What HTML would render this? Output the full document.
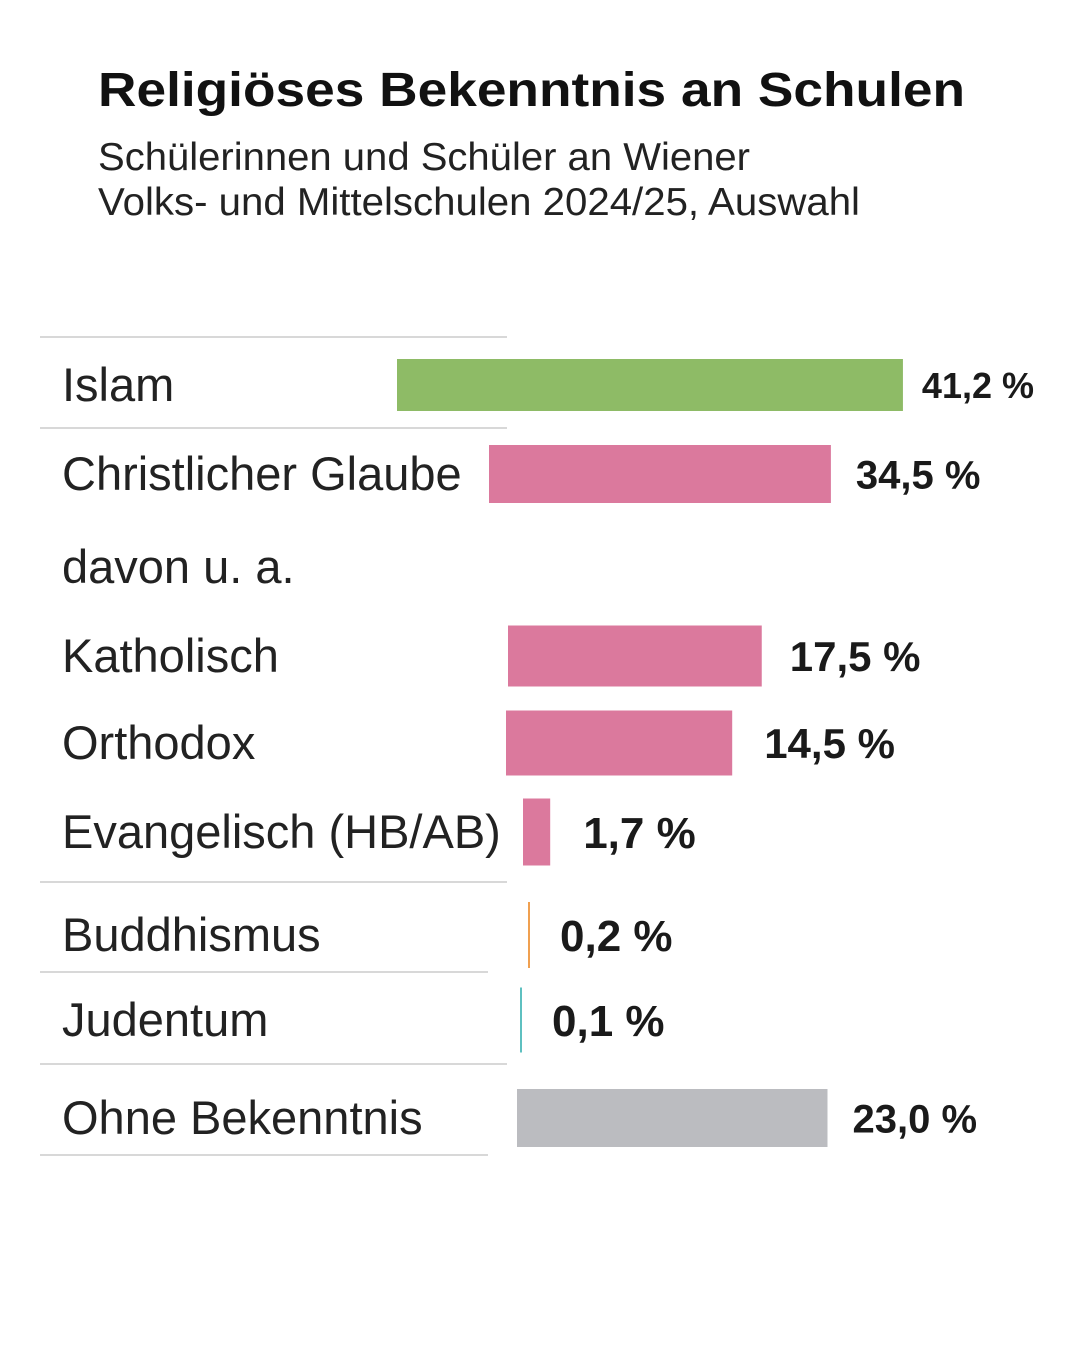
<!DOCTYPE html>
<html><head><meta charset="utf-8"><style>
body{margin:0;width:1080px;height:1350px;background:#fff;font-family:"Liberation Sans",sans-serif;overflow:hidden}
</style></head><body>
<svg width="1080" height="1350">
<text x="98" y="106" font-size="48" font-weight="bold" fill="#111" textLength="867" lengthAdjust="spacingAndGlyphs">Religiöses Bekenntnis an Schulen</text>
<text x="98" y="170" font-size="39" fill="#222" textLength="652" lengthAdjust="spacingAndGlyphs">Schülerinnen und Schüler an Wiener</text>
<text x="98" y="215" font-size="39" fill="#222" textLength="762" lengthAdjust="spacingAndGlyphs">Volks- und Mittelschulen 2024/25, Auswahl</text>
<g id="rows"></g>
</svg>
<script>
const categories=["Islam","Christlicher Glaube","davon u. a.","Katholisch","Orthodox","Evangelisch (HB/AB)","Buddhismus","Judentum","Ohne Bekenntnis"];
const values=[41.2,34.5,null,17.5,14.5,1.7,0.2,0.1,23.0];
const valueLabels=["41,2 %","34,5 %","","17,5 %","14,5 %","1,7 %","0,2 %","0,1 %","23,0 %"];
const colors=["#8ebb66","#db799d","","#db799d","#db799d","#db799d","#f0a050","#5ec0c0","#bbbcc0"];
const rowCenter=[385,474,567,656,743,832,935,1020,1118];
const barHeight=[52,58,0,61,65,67,66,65,58];
const barStart=[397,489,0,508,506,523,529,521,517];
const pxPerUnit=[12.28,9.91,0,14.5,15.6,16,1,1,13.5];
const valSize=[36,40,0,42,42,44,44,44,40];
const valGap=[19,25,0,28,32,33,29,29,25];
const seps=[[337,507],[428,507],[882,507],[972,488],[1064,507],[1155,488]];
const g=document.getElementById('rows');
const NS='http://www.w3.org/2000/svg';
function mk(t,a){const e=document.createElementNS(NS,t);for(const k in a)e.setAttribute(k,a[k]);g.appendChild(e);return e;}
seps.forEach(s=>{const l=mk('line',{x1:40,x2:s[1],y1:s[0],y2:s[0],stroke:'#d8d8d8','stroke-width':2});

});
function x(i,v){return barStart[i]+v*pxPerUnit[i];}
categories.forEach((c,i)=>{
 const t=mk('text',{x:62,y:rowCenter[i]+16,'font-size':47,fill:'#222'});t.textContent=c;
 
 
 if(values[i]==null)return;
 let endX;
 if(values[i]<1){
  const l=mk('rect',{x:barStart[i]-1,y:rowCenter[i]-barHeight[i]/2,width:2,height:barHeight[i],fill:colors[i]});
  
  
  endX=barStart[i]+2;
 } else {
  const w=x(i,values[i])-barStart[i];
  const r=mk('rect',{x:barStart[i],y:rowCenter[i]-barHeight[i]/2,width:w,height:barHeight[i],fill:colors[i]});
  
  
  endX=barStart[i]+w;
 }
 const v=mk('text',{x:endX+valGap[i],y:rowCenter[i]+valSize[i]*0.36,'font-size':valSize[i],'font-weight':'bold',fill:'#1a1a1a'});
 v.textContent=valueLabels[i];
 
 
});
</script>
</body></html>
